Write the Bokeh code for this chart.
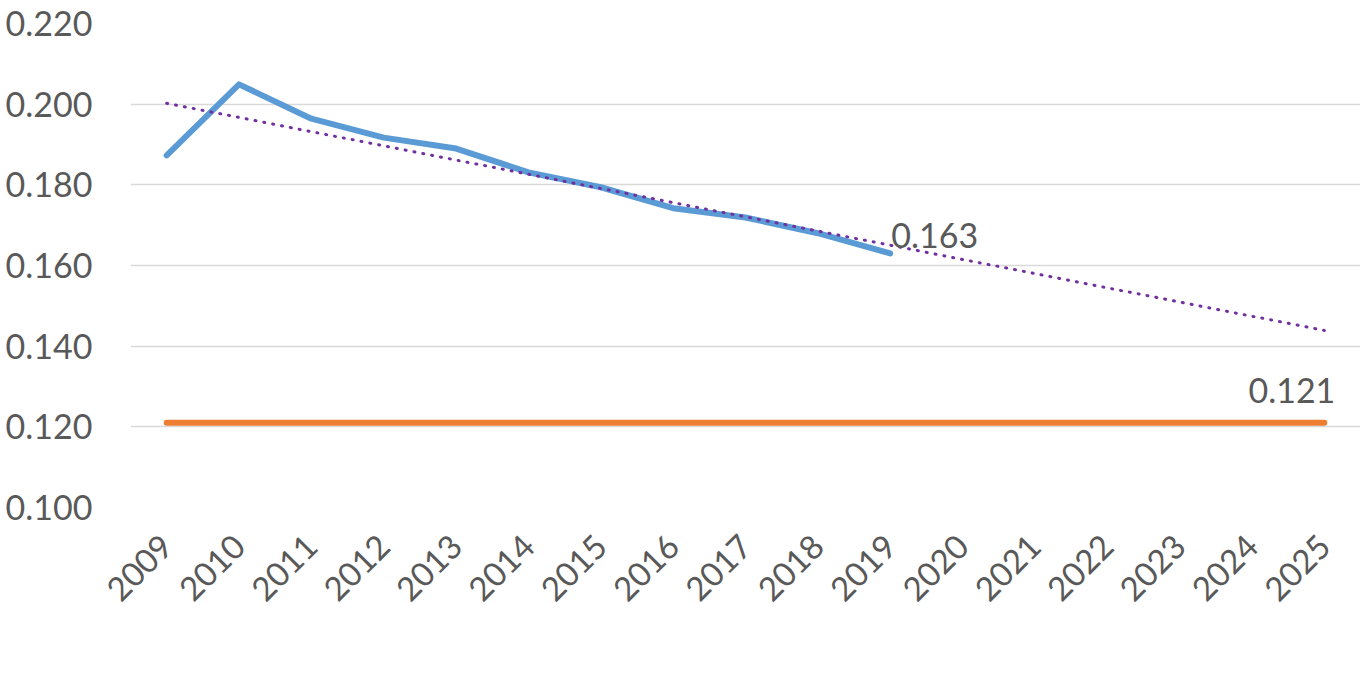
import numpy as np
from bokeh.plotting import figure
from bokeh.models import (Legend, LegendItem, FixedTicker, NumeralTickFormatter,
                          Range1d, FactorRange)
from bokeh.core.properties import value
from bokeh.embed import file_html
from bokeh.resources import INLINE

# ---- data ----
years = [str(y) for y in range(2009, 2026)]
phos_years = years[:11]
phosphorus = [0.1873, 0.2049, 0.1964, 0.1917, 0.1890, 0.1831, 0.1794, 0.1742, 0.1719, 0.1680, 0.1630]
target_years = years
target = [0.121] * len(years)
y_ticks = [0.100, 0.120, 0.140, 0.160, 0.180, 0.200, 0.220]

# linear trendline (Excel "Linear" trendline of phosphorus)
idx = np.arange(len(phosphorus))
slope, intercept = np.polyfit(idx, phosphorus, 1)
trend_years = [years[0], years[-1]]
trend_vals = [intercept, intercept + slope * (len(years) - 1)]

FONT = "Lato"
TXT = "#595959"

p = figure(x_range=FactorRange(*years), y_range=Range1d(0.100, 0.220),
           frame_width=1230, frame_height=484,
           output_backend="svg", toolbar_location=None,
           min_border_left=130, min_border_top=23, min_border_right=0,
           min_border_bottom=0,
           outline_line_color=None)

# grid
p.xgrid.grid_line_color = None
p.ygrid.grid_line_color = "#D9D9D9"
p.ygrid.grid_line_width = 1.5
p.yaxis.ticker = FixedTicker(ticks=y_ticks)
p.yaxis.formatter = NumeralTickFormatter(format="0.000")

for ax in (p.xaxis, p.yaxis):
    ax.axis_line_color = None
    ax.major_tick_line_color = None
    ax.minor_tick_line_color = None
    ax.major_label_text_font = FONT
    ax.major_label_text_color = TXT
    ax.major_label_text_font_size = "34px"

p.yaxis.major_label_standoff = 32
p.xaxis.major_label_orientation = np.pi / 4
p.xaxis.major_label_standoff = 27
p.xaxis.major_label_text_font_size = "33px"

r_phos = p.line(phos_years, phosphorus, line_color="#5B9BD5", line_width=6,
                line_join="round", line_cap="round")
r_target = p.line(target_years, target, line_color="#ED7D31", line_width=6,
                  line_cap="round")
r_trend = p.line(trend_years, trend_vals, line_color="#7030A0", line_width=3,
                 line_dash="1 8", line_cap="round")

# data labels
p.text(x=[phos_years[-1]], y=[phosphorus[-1]], text=[f"{phosphorus[-1]:.3f}"],
       text_font=value(FONT), text_font_size="34px", text_color=TXT,
       text_align="left", text_baseline="middle", x_offset=1, y_offset=-18)
p.text(x=[target_years[-1]], y=[target[-1]], text=[f"{target[-1]:.3f}"],
       text_font=value(FONT), text_font_size="34px", text_color=TXT,
       text_align="right", text_baseline="middle", x_offset=11, y_offset=-32)

legend = Legend(items=[
    LegendItem(label="Phosphorus (lbs/yr)", renderers=[r_phos]),
    LegendItem(label="Agriculture 2025 Target", renderers=[r_target]),
    LegendItem(label="Linear (Phosphorus (lbs/yr))", renderers=[r_trend]),
], orientation="horizontal", location="center")
legend.label_text_font = FONT
legend.label_text_font_size = "26px"
legend.label_text_color = TXT
legend.glyph_width = 72
legend.glyph_height = 20
legend.label_standoff = 6
legend.spacing = 25
legend.padding = 0
legend.margin = 0
legend.border_line_color = None
legend.background_fill_alpha = 0
p.add_layout(legend, "below")

open("out.html", "w").write(file_html(p, INLINE))
